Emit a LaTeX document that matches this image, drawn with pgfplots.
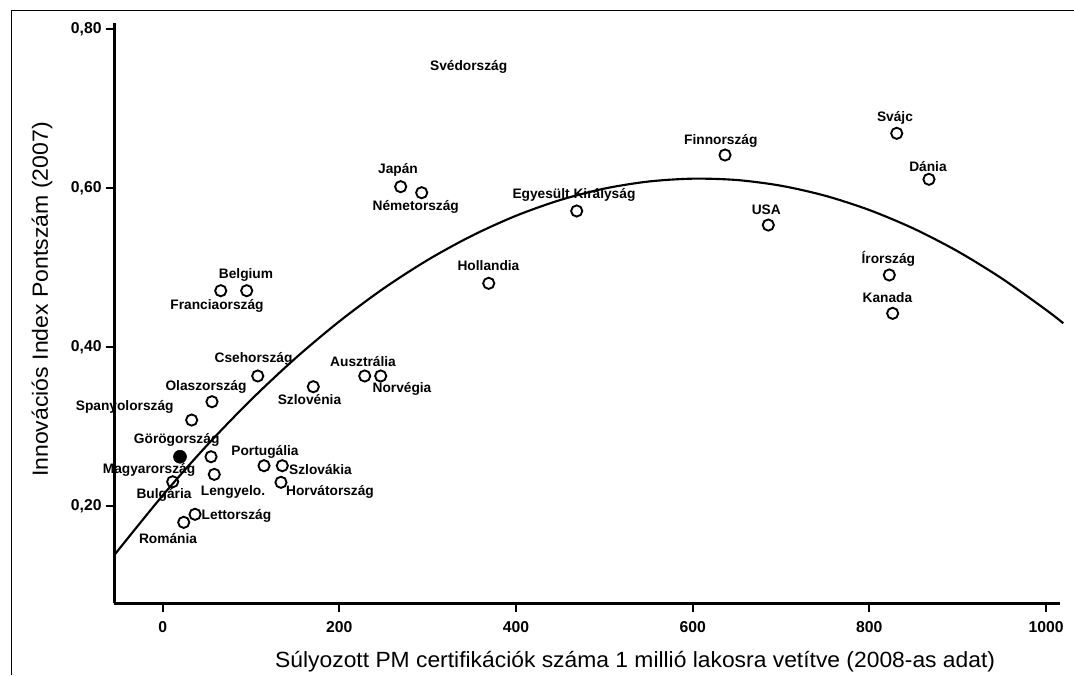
\documentclass[border=0pt]{standalone}
\usepackage{fontspec}
\setmainfont{Liberation Sans}
\usepackage{graphicx}
\usepackage{pgfplots}
\pgfplotsset{compat=1.18}
\tikzset{lab/.style={font=\bfseries\fontsize{10.3}{12}\selectfont, inner sep=0pt, anchor=center}}
\begin{document}
\begin{tikzpicture}
\begin{axis}[
  scale only axis, width=709.3pt, height=435.5pt,
  xmin=-54.8, xmax=1015.8, ymin=0.0771, ymax=0.8083,
  axis x line=bottom, axis y line=left,
  axis line style={-, line width=2.2pt, black},
  tick align=outside, major tick length=6.5pt,
  tick style={black, line width=1.5pt},
  xtick={0,200,400,600,800,1000}, xticklabels={0,200,400,600,800,1000},
  ytick={0.2,0.4,0.6,0.8}, yticklabels={{0,20},{0,40},{0,60},{0,80}},
  tick label style={font=\bfseries\fontsize{11.8}{14}\selectfont},
  xticklabel style={yshift=-3.5pt},
  yticklabel style={xshift=0.5pt},
  clip=false,
]
% quadratic fit curve
\addplot[black, line width=1.6pt, smooth] coordinates {
(-54.8,0.1379) (0,0.2130) (50,0.2759) (100,0.3334) (150,0.3855) (200,0.4322)
(250,0.4736) (300,0.5095) (350,0.5400) (400,0.5652) (450,0.5850) (500,0.5994)
(550,0.6083) (600,0.6119) (650,0.6102) (700,0.6030) (750,0.5904) (800,0.5724)
(850,0.5491) (900,0.5204) (950,0.4862) (1000,0.4467) (1019.6,0.4298)
};
% countries (open circles)
\addplot[only marks, mark=o, mark size=4.2pt, mark options={line width=1.4pt, black}] coordinates {
(269.4,0.6018) (293.2,0.5942) (65.7,0.4708) (95.1,0.4708) (468.7,0.5712)
(369.1,0.4801) (636.6,0.6417) (831.0,0.6690) (867.5,0.6111) (685.6,0.5535)
(822.6,0.4906) (826.4,0.4423) (107.6,0.3634) (228.7,0.3634) (246.8,0.3634)
(170.5,0.3499) (55.8,0.3310) (32.8,0.3079) (54.7,0.2617) (114.7,0.2504)
(135.4,0.2504) (58.4,0.2395) (11.3,0.2302) (133.9,0.2295) (36.6,0.1892)
(23.8,0.1791)
};
% Hungary (filled)
\addplot[only marks, mark=*, mark size=4.9pt, mark options={black, fill=black}] coordinates {
(19.6,0.2617)
};
\node[lab] at (axis cs:346.4,0.7521) {Svédország};
\node[lab] at (axis cs:266.4,0.6228) {Japán};
\node[lab] at (axis cs:286.5,0.5766) {Németország};
\node[lab] at (axis cs:94.3,0.4906) {Belgium};
\node[lab] at (axis cs:61.5,0.4515) {Franciaország};
\node[lab] at (axis cs:465.6,0.5913) {Egyesült Királyság};
\node[lab] at (axis cs:368.8,0.5023) {Hollandia};
\node[lab] at (axis cs:631.8,0.6597) {Finnország};
\node[lab] at (axis cs:829.0,0.6887) {Svájc};
\node[lab] at (axis cs:866.4,0.6278) {Dánia};
\node[lab] at (axis cs:683.3,0.5724) {USA};
\node[lab] at (axis cs:821.5,0.5103) {Írország};
\node[lab] at (axis cs:820.5,0.4625) {Kanada};
\node[lab] at (axis cs:102.8,0.3844) {Csehország};
\node[lab] at (axis cs:226.8,0.3814) {Ausztrália};
\node[lab] at (axis cs:270.9,0.3469) {Norvégia};
\node[lab] at (axis cs:166.2,0.3340) {Szlovénia};
\node[lab] at (axis cs:49.0,0.3499) {Olaszország};
\node[lab] at (axis cs:-43.0,0.3247) {Spanyolország};
\node[lab] at (axis cs:15.8,0.2827) {Görögország};
\node[lab] at (axis cs:-15.5,0.2450) {Magyarország};
\node[lab] at (axis cs:115.8,0.2680) {Portugália};
\node[lab] at (axis cs:178.6,0.2450) {Szlovákia};
\node[lab] at (axis cs:79.6,0.2176) {Lengyelo.};
\node[lab] at (axis cs:1.5,0.2135) {Bulgária};
\node[lab] at (axis cs:189.4,0.2176) {Horvátország};
\node[lab] at (axis cs:83.5,0.1874) {Lettország};
\node[lab] at (axis cs:6.0,0.1593) {Románia};
% axis titles
\node[font=\fontsize{16.5}{19}\selectfont, inner sep=0pt] at (axis cs:534.9,0.0032)
  {\resizebox{540pt}{\height}{Súlyozott PM certifikációk száma 1 millió lakosra vetítve (2008-as adat)}};
\node[font=\fontsize{16.5}{19}\selectfont, inner sep=0pt, rotate=90] at (axis cs:-136.6,0.4597)
  {\resizebox{266pt}{\height}{Innovációs Index Pontszám (2007)}};
% frame and page coordinates
\coordinate (BL) at (axis cs:-184.2,-0.01322);
\coordinate (TR) at (axis cs:1031.7,0.8369);
\coordinate (FL) at (axis cs:-171.7,0.8231);
\end{axis}
\draw[line width=0.75pt, black] (FL |- BL) -- (FL) -- (FL -| TR);
\pgfresetboundingbox
\useasboundingbox (BL) rectangle (TR);
\end{tikzpicture}
\end{document}
